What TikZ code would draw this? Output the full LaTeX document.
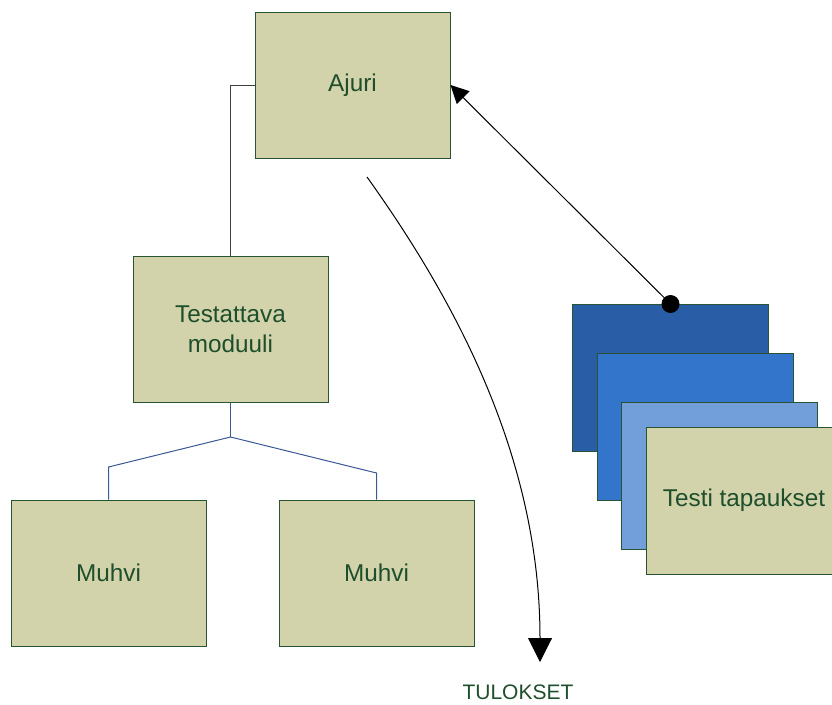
\documentclass[tikz,border=0pt]{standalone}
\usepackage{fontspec}
\setmainfont{Liberation Sans}
\usetikzlibrary{arrows.meta}
\definecolor{tan}{RGB}{210,211,170}
\definecolor{edgegreen}{RGB}{40,84,52}
\definecolor{txtgreen}{RGB}{31,78,45}
\definecolor{blueA}{RGB}{41,94,166}
\definecolor{blueB}{RGB}{51,117,203}
\definecolor{blueC}{RGB}{114,159,218}
\definecolor{treeblue}{RGB}{58,88,150}
\tikzset{
  box/.style={draw=edgegreen, line width=1pt, fill=tan, minimum width=195pt, minimum height=146pt,
    inner sep=0pt, text=txtgreen, font=\fontsize{24.3}{30}\selectfont, align=center},
  card/.style={draw=edgegreen, line width=1pt, minimum width=196pt, minimum height=147pt, inner sep=0pt},
  grayline/.style={draw=black!75, line width=1pt},
  treeline/.style={draw=treeblue, line width=1pt},
  arrowline/.style={draw=black, line width=1pt}
}
\begin{document}
\begin{tikzpicture}[x=1pt,y=-1pt]
\useasboundingbox (0,0) rectangle (832,704);
\clip (0,0) rectangle (832,704);
\node[box] (ajuri) at (352.5,85) {Ajuri};
\node[box] (test) at (230.5,329) {Testattava\\moduuli};
\node[box] (muhviL) at (108.5,573) {Muhvi};
\node[box] (muhviR) at (376.5,573) {Muhvi};
\node[card, fill=blueA] (cardA) at (670.5,378) {};
\node[card, fill=blueB] (cardB) at (695,426.5) {};
\node[card, fill=blueC] (cardC) at (719.5,475.5) {};
\node[box, minimum width=196pt, minimum height=147pt] (cases) at (744,500.5) {Testi tapaukset};
\node[text=txtgreen, font=\fontsize{21}{24}\selectfont, inner sep=0pt] (tulokset) at (518,692) {TULOKSET};
% Ajuri -> Testattava
\draw[grayline] (ajuri.west) -| (test.north);
% tree
\coordinate (br) at (230.5,437);
\draw[treeline] (test.south) -- (br);
\draw[treeline] (br) -- (108.5,467) -- (muhviL.north);
\draw[treeline] (br) -- (376.5,473) -- (muhviR.north);
% test cases -> Ajuri
\draw[arrowline, -{Triangle[length=18pt,width=18pt]}] (cardA.north) -- (ajuri.east);
\fill[black] (cardA.north) circle (9pt);
% results curve
\coordinate (cstart) at (367,177);
\coordinate (cend) at (540,662);
\draw[arrowline, -{Triangle[length=24pt,width=24pt]}] (cstart) .. controls (460,307) and (540,462) .. (cend);
\end{tikzpicture}
\end{document}
